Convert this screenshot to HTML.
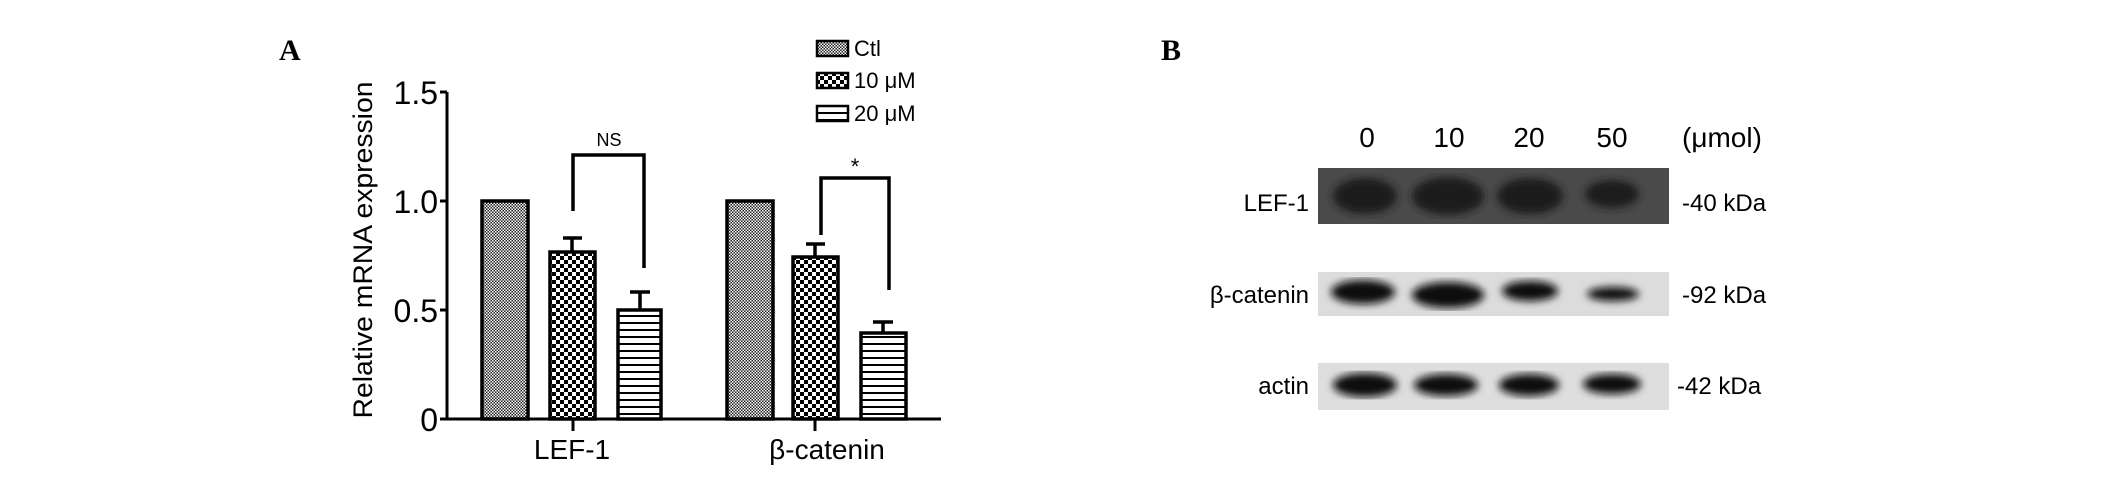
<!DOCTYPE html>
<html><head><meta charset="utf-8"><style>
html,body{margin:0;padding:0;background:#fff;}
svg{display:block;font-family:"Liberation Sans",sans-serif;}
</style></head><body>
<svg width="2126" height="483" viewBox="0 0 2126 483" xmlns="http://www.w3.org/2000/svg">
<defs>
<pattern id="fine" width="3" height="3" patternUnits="userSpaceOnUse"><rect width="3" height="3" fill="#222"/><rect x="0" y="0" width="1.5" height="1.5" fill="#fff"/><rect x="1.5" y="1.5" width="1.5" height="1.5" fill="#fff"/></pattern>
<pattern id="chk" width="8" height="8" patternUnits="userSpaceOnUse"><rect width="8" height="8" fill="#fff"/><rect x="0" y="0" width="4" height="4" fill="#000"/><rect x="4" y="4" width="4" height="4" fill="#000"/></pattern>
<pattern id="hl" width="7" height="7" patternUnits="userSpaceOnUse"><rect width="7" height="7" fill="#fff"/><rect y="0" width="7" height="2" fill="#000"/></pattern>
<filter id="blur"><feGaussianBlur stdDeviation="4"/></filter>
</defs>
<text x="279" y="60" font-family="Liberation Serif" font-weight="bold" font-size="30">A</text>
<text x="1161" y="60" font-family="Liberation Serif" font-weight="bold" font-size="30">B</text>
<!-- axes -->
<g stroke="#000" stroke-width="3" fill="none">
<line x1="447" y1="92" x2="447" y2="420"/>
<line x1="440" y1="92" x2="447" y2="92"/>
<line x1="440" y1="201" x2="447" y2="201"/>
<line x1="440" y1="310" x2="447" y2="310"/>
<line x1="440" y1="419" x2="941" y2="419"/>
<line x1="573" y1="419" x2="573" y2="431"/>
<line x1="815" y1="419" x2="815" y2="431"/>
</g>
<g font-size="32" text-anchor="end">
<text x="438" y="104">1.5</text><text x="438" y="213">1.0</text><text x="438" y="322">0.5</text><text x="438" y="431">0</text>
</g>
<text transform="translate(372,250) rotate(-90)" text-anchor="middle" font-size="27" textLength="337" lengthAdjust="spacingAndGlyphs">Relative mRNA expression</text>
<text x="572" y="459" text-anchor="middle" font-size="28">LEF-1</text>
<text x="827" y="459" text-anchor="middle" font-size="28">β-catenin</text>
<!-- bars -->
<g stroke="#000" stroke-width="3.5">
<rect x="482" y="201" width="46" height="218" fill="url(#fine)"/>
<rect x="550" y="252" width="45" height="167" fill="url(#chk)"/>
<rect x="618" y="310" width="43" height="109" fill="url(#hl)"/>
<rect x="727" y="201" width="46" height="218" fill="url(#fine)"/>
<rect x="793" y="257" width="45" height="162" fill="url(#chk)"/>
<rect x="861" y="333" width="45" height="86" fill="url(#hl)"/>
</g>
<g stroke="#000" stroke-width="3.5" fill="none">
<path d="M572 252V238M563 238H582"/>
<path d="M640 310V292M630 292H650"/>
<path d="M815 257V244M806 244H825"/>
<path d="M883 333V322M873 322H893"/>
<path d="M573 211V155H644V268"/>
<path d="M821 235V178H889V290"/>
</g>
<text x="609" y="146" text-anchor="middle" font-size="18">NS</text>
<text x="855" y="174" text-anchor="middle" font-size="22">*</text>
<!-- legend -->
<g stroke="#000" stroke-width="2.5">
<rect x="817" y="41" width="31" height="15" fill="url(#fine)"/>
<rect x="817" y="73" width="31" height="15" fill="url(#chk)"/>
<rect x="817" y="106" width="31" height="15" fill="url(#hl)"/>
</g>
<g font-size="22"><text x="854" y="56">Ctl</text><text x="854" y="88">10 μM</text><text x="854" y="121">20 μM</text></g>
<!-- blots -->
<g font-size="28" text-anchor="middle">
<text x="1367" y="147">0</text><text x="1449" y="147">10</text><text x="1529" y="147">20</text><text x="1612" y="147">50</text>
</g>
<text x="1682" y="147" font-size="28">(μmol)</text>
<rect x="1318" y="168" width="351" height="56" fill="#4a4a4a"/>
<g filter="url(#blur)" fill="#1a1a1a">
<ellipse cx="1365" cy="196" rx="32" ry="18"/><ellipse cx="1448" cy="196" rx="36" ry="19"/><ellipse cx="1530" cy="196" rx="33" ry="18"/><ellipse cx="1612" cy="194" rx="27" ry="14"/>
</g>
<rect x="1318" y="272" width="351" height="44" fill="#dcdcdc"/>
<g filter="url(#blur)" fill="#111">
<ellipse cx="1363" cy="292" rx="32" ry="12"/><ellipse cx="1448" cy="295" rx="36" ry="13"/><ellipse cx="1530" cy="291" rx="28" ry="10"/><ellipse cx="1613" cy="294" rx="26" ry="7"/>
</g>
<rect x="1318" y="363" width="351" height="47" fill="#dedede"/>
<g filter="url(#blur)" fill="#111">
<ellipse cx="1365" cy="385" rx="32" ry="12"/><ellipse cx="1446" cy="385" rx="32" ry="11"/><ellipse cx="1529" cy="385" rx="30" ry="11"/><ellipse cx="1612" cy="384" rx="29" ry="10"/>
</g>
<g font-size="24" text-anchor="end">
<text x="1309" y="211">LEF-1</text><text x="1309" y="303">β-catenin</text><text x="1309" y="394">actin</text>
</g>
<g font-size="24">
<text x="1682" y="211">-40 kDa</text><text x="1682" y="303">-92 kDa</text><text x="1677" y="394">-42 kDa</text>
</g>
</svg>
</body></html>
